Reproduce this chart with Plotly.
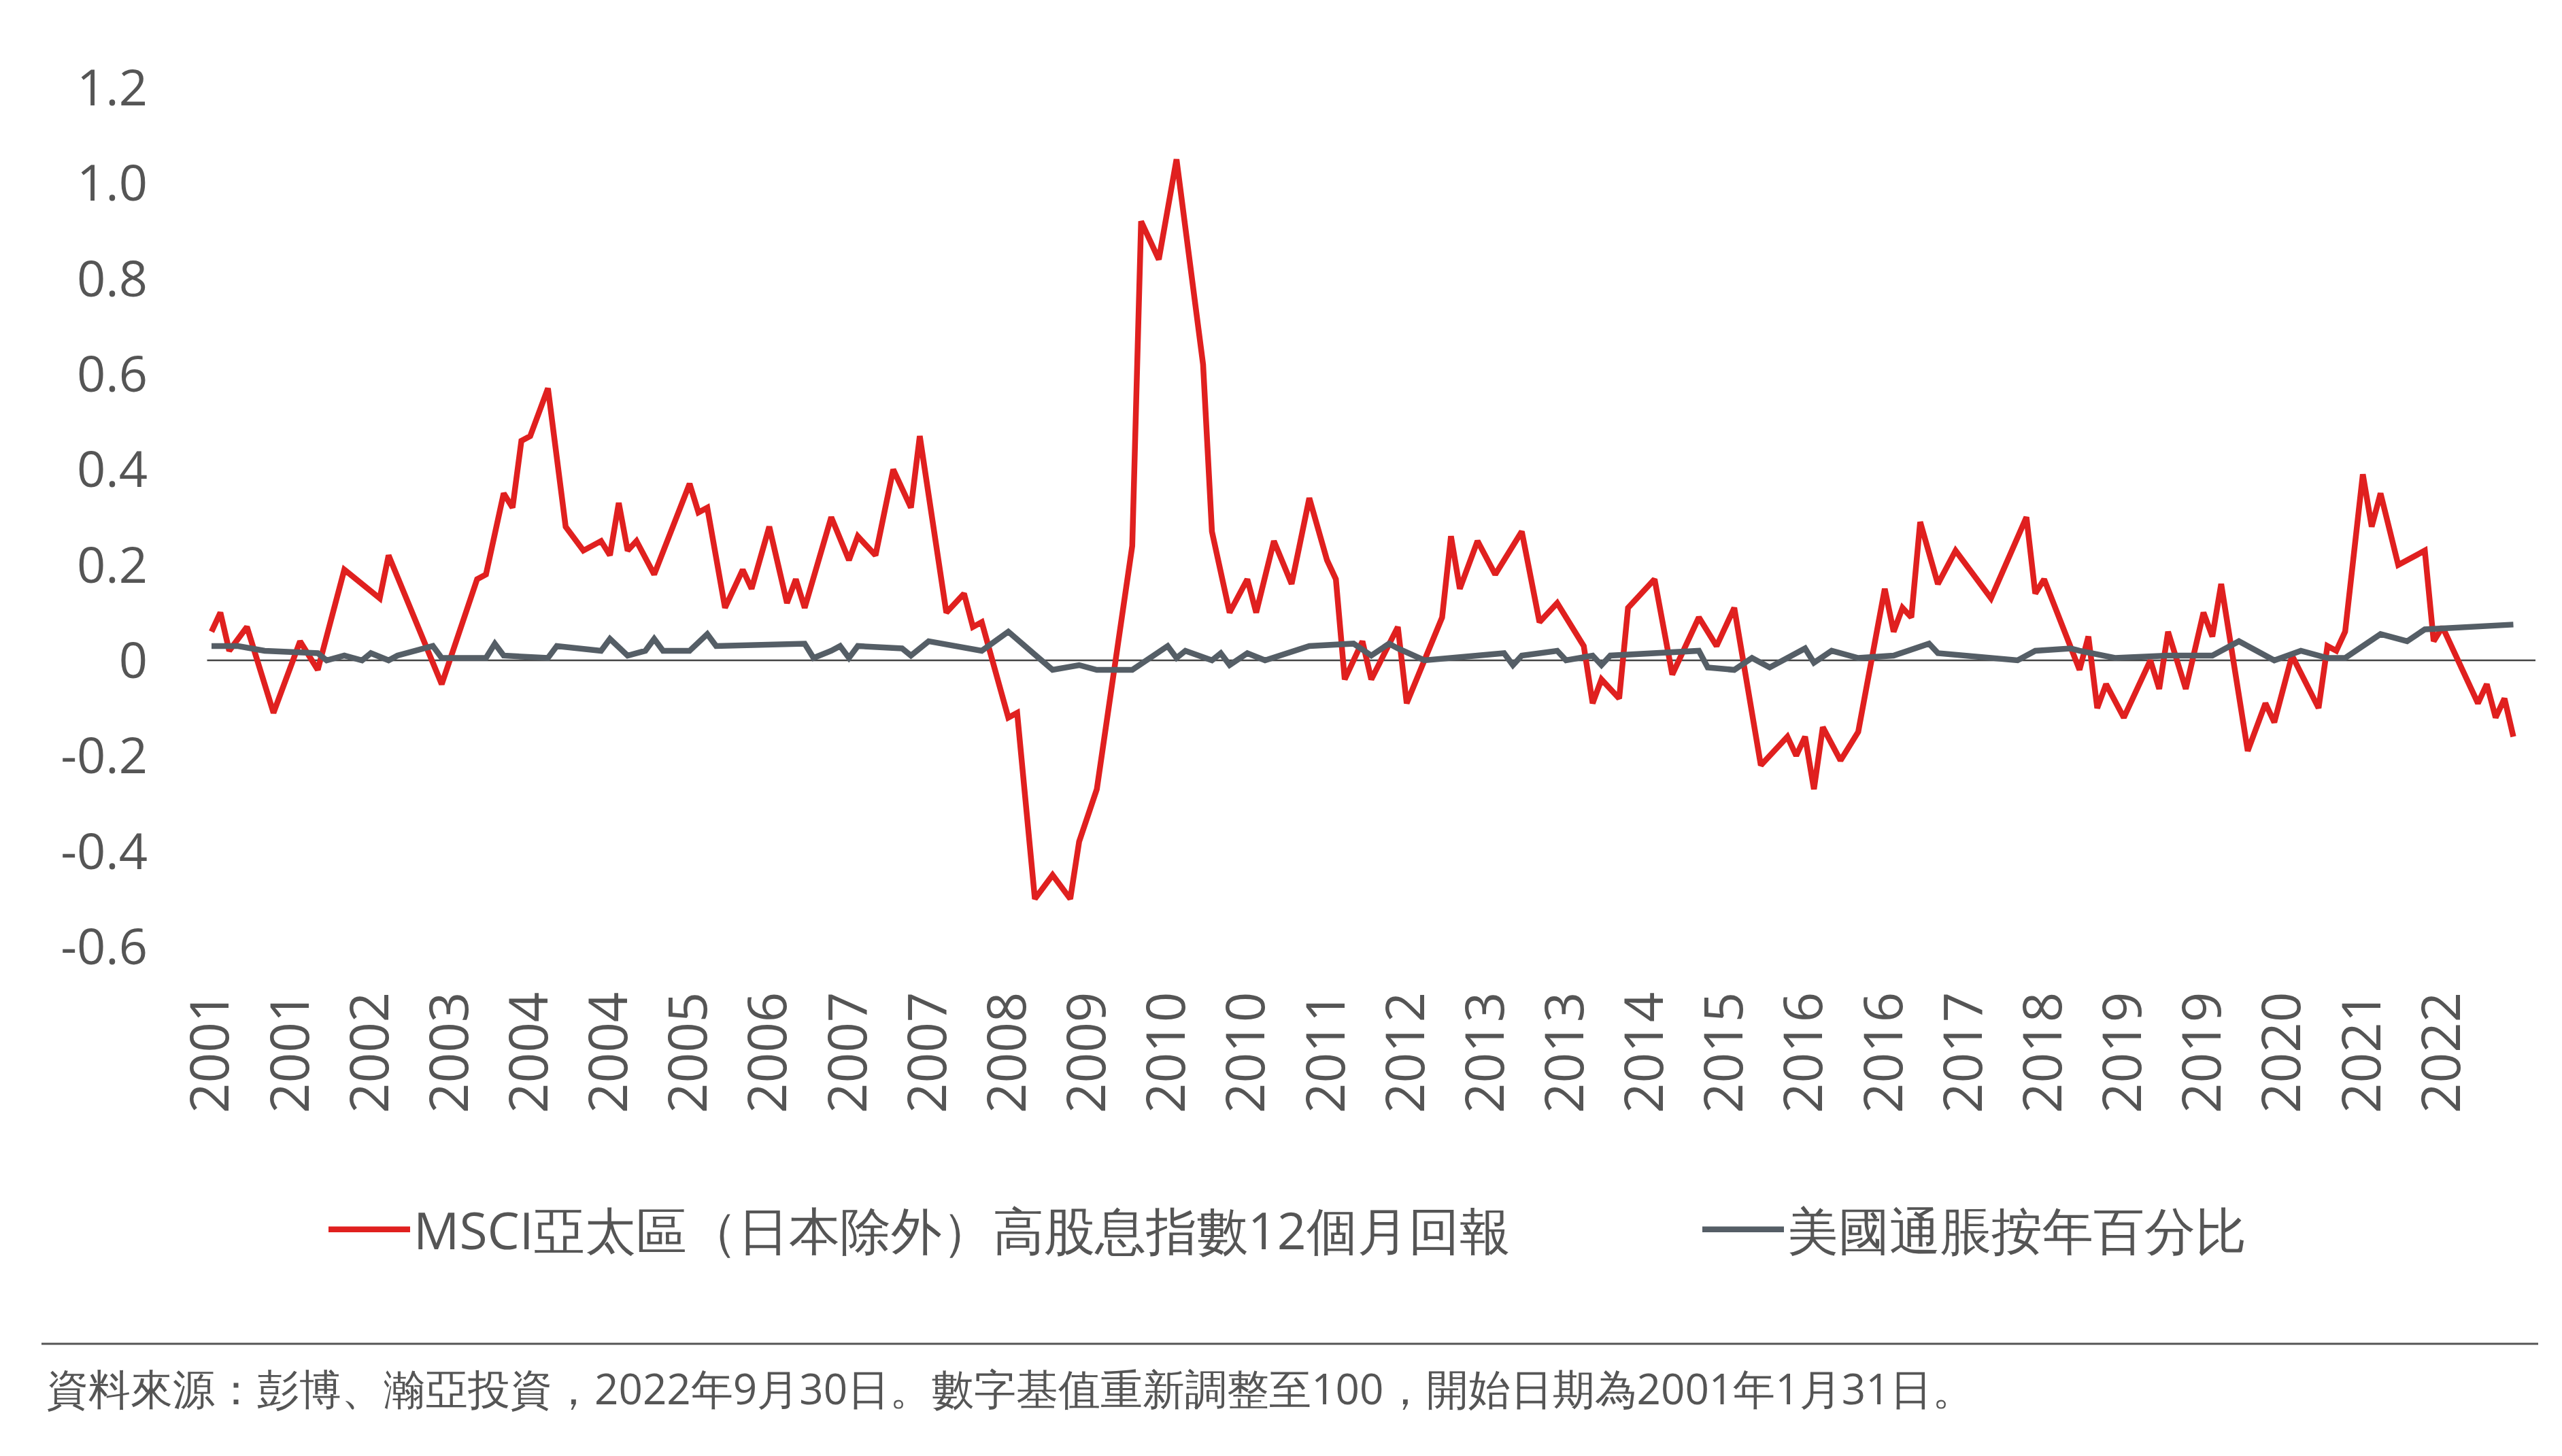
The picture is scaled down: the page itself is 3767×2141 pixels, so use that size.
import plotly.graph_objects as go

# month index (0 = Jan 2001) and values
red_m = [0,1,2,4,7,10,12,15,19,20,
         26,30,31,33,34,35,36,38,40,42,
         44,45,46,47,48,50,54,55,56,58,
         60,61,63,65,66,67,70,72,73,75,
         77,79,80,83,85,86,87,90,91,93,
         95,97,98,100,104,105,107,109,112,113,
         115,117,118,120,122,124,126,127,128,130,
         131,134,135,139,140,141,143,145,148,150,
         152,155,156,157,159,160,163,165,168,170,
         172,174,175,178,179,180,181,182,184,186,
         189,190,191,192,193,195,197,201,205,206,
         207,211,212,213,214,216,219,220,221,223,
         225,226,227,230,232,233,235,238,239,240,
         241,243,244,245,247,250,251,252,256,257,
         258,259,260]
red_v = [0.06,0.10,0.02,0.07,-0.11,0.04,-0.02,0.19,0.13,0.22,
         -0.05,0.17,0.18,0.35,0.32,0.46,0.47,0.57,0.28,0.23,
         0.25,0.22,0.33,0.23,0.25,0.18,0.37,0.31,0.32,0.11,
         0.19,0.15,0.28,0.12,0.17,0.11,0.30,0.21,0.26,0.22,
         0.40,0.32,0.47,0.10,0.14,0.07,0.08,-0.12,-0.11,-0.50,
         -0.45,-0.50,-0.38,-0.27,0.24,0.92,0.84,1.05,0.62,0.27,
         0.10,0.17,0.10,0.25,0.16,0.34,0.21,0.17,-0.04,0.04,
         -0.04,0.07,-0.09,0.09,0.26,0.15,0.25,0.18,0.27,0.08,
         0.12,0.03,-0.09,-0.04,-0.08,0.11,0.17,-0.03,0.09,0.03,
         0.11,-0.11,-0.22,-0.16,-0.20,-0.16,-0.27,-0.14,-0.21,-0.15,
         0.15,0.06,0.11,0.09,0.29,0.16,0.23,0.13,0.30,0.14,
         0.17,-0.02,0.05,-0.10,-0.05,-0.12,0.00,-0.06,0.06,-0.06,
         0.10,0.05,0.16,-0.19,-0.09,-0.13,0.01,-0.10,0.03,0.02,
         0.06,0.39,0.28,0.35,0.20,0.23,0.04,0.07,-0.09,-0.05,
         -0.12,-0.08,-0.16]

gray_m = [0,3,6,12,13,15,17,18,20,21,25,26,31,32,33,38,39,44,45,47,49,50,51,54,56,57,67,68,70,71,72,73,78,79,81,87,90,95,98,100,104,108,109,110,113,114,115,117,119,124,129,131,133,134,137,146,147,148,152,153,156,157,158,168,169,172,174,176,180,181,183,186,190,194,195,204,206,210,211,215,221,226,229,233,236,239,241,245,248,250,260]
gray_v = [0.03,0.03,0.02,0.015,0,0.01,0,0.015,0,0.01,0.03,0.005,0.005,0.035,0.01,0.005,0.03,0.02,0.045,0.01,0.02,0.045,0.02,0.02,0.055,0.03,0.035,0.005,0.02,0.03,0.005,0.03,0.025,0.01,0.04,0.02,0.06,-0.02,-0.01,-0.02,-0.02,0.03,0.005,0.02,0,0.015,-0.01,0.015,0,0.03,0.035,0.01,0.035,0.025,0,0.015,-0.01,0.01,0.02,0,0.01,-0.01,0.01,0.02,-0.015,-0.02,0.005,-0.015,0.025,-0.005,0.02,0.005,0.01,0.035,0.015,0,0.02,0.025,0.02,0.005,0.01,0.01,0.04,0,0.02,0.005,0.005,0.055,0.04,0.065,0.075]

tick_months = list(range(0, 261, 9))
tick_labels = ["2001","2001","2002","2003","2004","2004","2005","2006","2007","2007","2008","2009","2010","2010","2011","2012","2013","2013","2014","2015","2016","2016","2017","2018","2019","2019","2020","2021","2022"]
y_ticks = [1.2,1.0,0.8,0.6,0.4,0.2,0,-0.2,-0.4,-0.6]
y_labels = ["1.2","1.0","0.8","0.6","0.4","0.2","0","-0.2","-0.4","-0.6"]

FONT = "Open Sans"
TXT = "#555555"
fig = go.Figure()
fig.add_trace(go.Scatter(x=red_m, y=red_v, mode="lines", name="MSCI亞太區（日本除外）高股息指數12個月回報",
                         line=dict(color="#E0201F", width=8.5), legend="legend"))
fig.add_trace(go.Scatter(x=gray_m, y=gray_v, mode="lines", name="美國通脹按年百分比",
                         line=dict(color="#555E66", width=8.5), legend="legend2"))

L, R, T, B = 290, 47, 121, 757
W, H = 3767, 2141
pw, ph = W - L - R, H - T - B
def px(x): return (x - L) / pw
def py(y): return (H - B - y) / ph

leg = dict(orientation="h", yanchor="middle", xanchor="left", font=dict(size=75, color=TXT),
           itemwidth=120, bgcolor="rgba(0,0,0,0)")
fig.update_layout(
    width=W, height=H, margin=dict(l=L, r=R, t=T, b=B, autoexpand=False),
    paper_bgcolor="white", plot_bgcolor="white",
    font=dict(family=FONT, color=TXT, size=58),
    showlegend=True,
    legend=dict(leg, x=px(470), y=py(1800)),
    legend2=dict(leg, x=px(2490), y=py(1800)),
    xaxis=dict(range=[-1, 262.5], tickmode="array", tickvals=tick_months, ticktext=tick_labels,
               tickangle=-90, showgrid=False, zeroline=False, showline=False, ticks="",
               ticklabelstandoff=50, tickfont=dict(size=78, color=TXT)),
    yaxis=dict(range=[-0.6, 1.2], tickmode="array", tickvals=y_ticks, ticktext=y_labels,
               showgrid=False, zeroline=False, showline=False, ticks="",
               ticklabelstandoff=80, tickfont=dict(size=74, color=TXT)),
    shapes=[
        dict(type="line", xref="x", yref="y", x0=-0.5, x1=262.5, y0=0, y1=0,
             line=dict(color="#444444", width=2.5), layer="below"),
        dict(type="line", xref="paper", yref="paper", x0=px(53), x1=px(3724), y0=py(1968), y1=py(1968),
             line=dict(color="#555555", width=3)),
    ],
    annotations=[dict(xref="paper", yref="paper", x=px(58), y=py(2033), xanchor="left", yanchor="middle",
                      showarrow=False, text="資料來源：彭博、瀚亞投資，2022年9月30日。數字基值重新調整至100，開始日期為2001年1月31日。",
                      font=dict(size=62, color=TXT))],
)
fig.write_html("out.html")
